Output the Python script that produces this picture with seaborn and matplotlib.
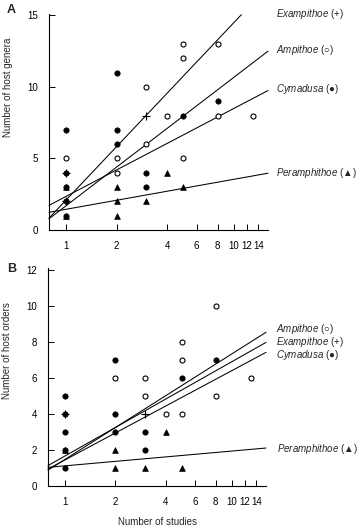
import numpy as np
import pandas as pd
import matplotlib
matplotlib.use("Agg")
import matplotlib.pyplot as plt
import seaborn as sns

sns.set_theme(style="ticks")
plt.rcParams['font.family'] = ['Liberation Sans', 'DejaVu Sans']
plt.rcParams['mathtext.fontset'] = 'custom'
plt.rcParams['mathtext.it'] = 'Liberation Sans:italic'
plt.rcParams['mathtext.rm'] = 'Liberation Sans'

# ---------------- data ----------------
genera = ["Ampithoe", "Cymadusa", "Exampithoe", "Peramphithoe"]
symbols = ["○", "●", "+", "▲"]

# Panel A: number of host genera vs number of studies
a_amp_x = [1, 2, 2, 3, 3, 4, 5, 5, 5, 8, 8, 13]
a_amp_y = [5, 5, 4, 10, 6, 8, 13, 12, 5, 13, 8, 8]
a_cym_x = [1, 1, 1, 1, 1, 2, 2, 2, 3, 3, 5, 8]
a_cym_y = [7, 4, 3, 2, 1, 11, 7, 6, 4, 3, 8, 9]
a_exa_x = [1, 1, 3]
a_exa_y = [4, 2, 8]
a_per_x = [1, 1, 2, 2, 2, 3, 4, 5]
a_per_y = [3, 1, 3, 2, 1, 2, 4, 3]
# regression lines y = intercept + slope*log2(x)
a_intercept = [1.70, 2.35, 2.10, 1.45]
a_slope = [2.70, 1.85, 3.73, 0.63]
a_line_end = [16.0, 16.0, 11.1, 16.0]

# Panel B: number of host orders vs number of studies
b_amp_x = [2, 3, 3, 4, 5, 5, 5, 8, 8, 13]
b_amp_y = [6, 6, 5, 4, 8, 7, 4, 10, 5, 6]
b_cym_x = [1, 1, 1, 1, 1, 2, 2, 2, 3, 3, 5, 8]
b_cym_y = [5, 4, 3, 2, 1, 7, 4, 3, 3, 2, 6, 7]
b_exa_x = [1, 3]
b_exa_y = [4, 4]
b_per_x = [1, 2, 2, 3, 4, 5]
b_per_y = [2, 2, 1, 1, 3, 1]
b_intercept = [1.48, 1.45, 1.67, 1.12]
b_slope = [1.763, 1.492, 1.575, 0.247]
b_line_end = [16.0, 16.0, 16.0, 16.0]

x_ticks = [1, 2, 4, 6, 8, 10, 12, 14]
x_ticklabels = ["1", "2", "4", "6", "8", "10", "12", "14"]
a_yticks = [0, 5, 10, 15]
b_yticks = [0, 2, 4, 6, 8, 10, 12]

def frame(xs, ys):
    rows = []
    for g, x, y in zip(genera, xs, ys):
        for xi, yi in zip(x, y):
            rows.append({"genus": g, "studies": xi, "hosts": yi})
    return pd.DataFrame(rows)

dfA = frame([a_amp_x, a_cym_x, a_exa_x, a_per_x], [a_amp_y, a_cym_y, a_exa_y, a_per_y])
dfB = frame([b_amp_x, b_cym_x, b_exa_x, b_per_x], [b_amp_y, b_cym_y, b_exa_y, b_per_y])

W, H = 360, 531
fig = plt.figure(figsize=(W / 100, H / 100), dpi=100)
axA = fig.add_axes([49 / W, 1 - 230 / H, (268 - 49) / W, (230 - 14) / H])
axB = fig.add_axes([48 / W, 1 - 486 / H, (266 - 48) / W, (486 - 268) / H])

styles = {
    "Ampithoe": dict(marker="o", s=13, facecolor="white", edgecolor="black", linewidth=0.8),
    "Cymadusa": dict(marker="o", s=15, facecolor="black", edgecolor="black", linewidth=0.5),
    "Exampithoe": dict(marker="+", s=40, color="black", linewidth=0.8),
    "Peramphithoe": dict(marker="^", s=17, facecolor="black", edgecolor="black", linewidth=0.5),
}

x0 = 0.79

def draw(ax, df, intercepts, slopes, ends, yticks, ylim, ylabel, label_y):
    for g in ["Ampithoe", "Exampithoe", "Cymadusa", "Peramphithoe"]:
        sub = df[df["genus"] == g]
        sns.scatterplot(data=sub, x="studies", y="hosts", ax=ax, legend=False,
                        zorder=3, clip_on=False, **styles[g])
    for g, a, b, e in zip(genera, intercepts, slopes, ends):
        xs = np.geomspace(x0, e, 50)
        ax.plot(xs, a + b * np.log2(xs), color="black", lw=0.75, clip_on=False, zorder=2)
    ax.set_xscale("log", base=2)
    ax.set_xlim(x0, 16)
    ax.set_ylim(*ylim)
    ax.set_xticks(x_ticks)
    ax.set_xticklabels(x_ticklabels)
    ax.xaxis.set_minor_locator(matplotlib.ticker.NullLocator())
    ax.set_yticks(yticks)
    ax.tick_params(direction="in", length=4, width=0.7, labelsize=7, pad=8, colors="black")
    for sp in ["top", "right"]:
        ax.spines[sp].set_visible(False)
    for sp in ["left", "bottom"]:
        ax.spines[sp].set_linewidth(0.8)
        ax.spines[sp].set_color("black")
    ax.set_xlabel("")
    ax.set_ylabel(ylabel, fontsize=7)
    ax.yaxis.set_label_coords(-0.165, label_y)
    ax.set_facecolor("none")

draw(axA, dfA, a_intercept, a_slope, a_line_end, a_yticks, (0, 15.1),
     "Number of host genera", 0.66)
draw(axB, dfB, b_intercept, b_slope, b_line_end, b_yticks, (0, 12.1),
     "Number of host orders", 0.62)
axB.set_xlabel("Number of studies", fontsize=7)
axB.xaxis.set_label_coords(0.5, -0.14)

def lab(name, sym, xpix, ypix):
    fig.text(xpix / W, 1 - ypix / H, r"$\mathit{" + name + "}$ (" + sym + ")",
             fontsize=7, va="center", ha="left")

symd = dict(zip(genera, symbols))
lab("Exampithoe", symd["Exampithoe"], 276, 14)
lab("Ampithoe", symd["Ampithoe"], 276, 50)
lab("Cymadusa", symd["Cymadusa"], 276, 89)
lab("Peramphithoe", symd["Peramphithoe"], 276, 173)

lab("Ampithoe", symd["Ampithoe"], 276, 329)
lab("Exampithoe", symd["Exampithoe"], 276, 342)
lab("Cymadusa", symd["Cymadusa"], 276, 355)
lab("Peramphithoe", symd["Peramphithoe"], 277, 449)

fig.text(7 / W, 1 - 10 / H, "A", fontsize=9, fontweight="bold", va="center")
fig.text(7 / W, 1 - 269 / H, "B", fontsize=9, fontweight="bold", va="center")

fig.savefig("out.png", dpi=100)
